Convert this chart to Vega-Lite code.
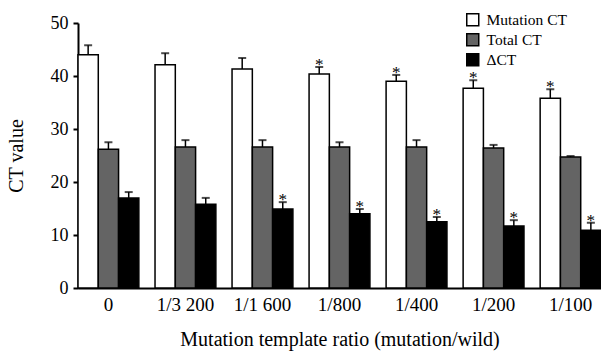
{
  "$schema": "https://vega.github.io/schema/vega-lite/v6.json",
  "width": 523,
  "height": 265,
  "autosize": {"type": "none"},
  "padding": {"left": 78, "top": 23, "right": 0, "bottom": 64},
  "background": "white",
  "config": {
    "view": {"stroke": null},
    "font": "Liberation Serif",
    "axis": {"domainColor": "black", "domainWidth": 2, "tickColor": "black", "tickWidth": 2, "labelColor": "black", "titleColor": "black", "labelFont": "Liberation Serif", "titleFont": "Liberation Serif", "titleFontWeight": "normal", "labelFontSize": 19, "titleFontSize": 20, "grid": false}
  },
  "data": {
    "values": [
      {"ratio": "0", "series": "Mutation CT", "value": 44.0, "top": 45.8, "sig": false},
      {"ratio": "0", "series": "Total CT", "value": 26.2, "top": 27.5, "sig": false},
      {"ratio": "0", "series": "ΔCT", "value": 17.0, "top": 18.1, "sig": false},
      {"ratio": "1/3 200", "series": "Mutation CT", "value": 42.1, "top": 44.3, "sig": false},
      {"ratio": "1/3 200", "series": "Total CT", "value": 26.6, "top": 27.9, "sig": false},
      {"ratio": "1/3 200", "series": "ΔCT", "value": 15.8, "top": 17.0, "sig": false},
      {"ratio": "1/1 600", "series": "Mutation CT", "value": 41.3, "top": 43.4, "sig": false},
      {"ratio": "1/1 600", "series": "Total CT", "value": 26.6, "top": 27.9, "sig": false},
      {"ratio": "1/1 600", "series": "ΔCT", "value": 14.9, "top": 16.2, "sig": true},
      {"ratio": "1/800", "series": "Mutation CT", "value": 40.4, "top": 41.7, "sig": true},
      {"ratio": "1/800", "series": "Total CT", "value": 26.6, "top": 27.5, "sig": false},
      {"ratio": "1/800", "series": "ΔCT", "value": 14.0, "top": 14.9, "sig": true},
      {"ratio": "1/400", "series": "Mutation CT", "value": 39.0, "top": 40.2, "sig": true},
      {"ratio": "1/400", "series": "Total CT", "value": 26.6, "top": 27.9, "sig": false},
      {"ratio": "1/400", "series": "ΔCT", "value": 12.5, "top": 13.4, "sig": true},
      {"ratio": "1/200", "series": "Mutation CT", "value": 37.7, "top": 39.2, "sig": true},
      {"ratio": "1/200", "series": "Total CT", "value": 26.4, "top": 27.0, "sig": false},
      {"ratio": "1/200", "series": "ΔCT", "value": 11.7, "top": 12.8, "sig": true},
      {"ratio": "1/100", "series": "Mutation CT", "value": 35.8, "top": 37.5, "sig": true},
      {"ratio": "1/100", "series": "Total CT", "value": 24.7, "top": 24.9, "sig": false},
      {"ratio": "1/100", "series": "ΔCT", "value": 10.9, "top": 12.3, "sig": true}
    ]
  },
  "encoding": {
    "x": {
      "field": "ratio", "type": "nominal",
      "sort": ["0", "1/3 200", "1/1 600", "1/800", "1/400", "1/200", "1/100"],
      "scale": {"paddingInner": 0.21, "paddingOuter": 0, "align": 1},
      "axis": {"title": "Mutation template ratio (mutation/wild)", "labelAngle": 0, "ticks": false, "labelPadding": 7, "titlePadding": 15}
    },
    "xOffset": {
      "field": "series", "type": "nominal",
      "sort": ["Mutation CT", "Total CT", "ΔCT"],
      "scale": {"paddingInner": 0, "paddingOuter": 0}
    }
  },
  "layer": [
    {
      "mark": {"type": "bar", "stroke": "black", "strokeWidth": 1.5},
      "encoding": {
        "y": {"field": "value", "type": "quantitative", "scale": {"domain": [0, 50], "nice": false},
          "axis": {"title": "CT value", "values": [0, 10, 20, 30, 40, 50], "tickSize": 5, "labelPadding": 5, "labelFontSize": 18, "titlePadding": 24}},
        "fill": {"field": "series", "type": "nominal",
          "scale": {"domain": ["Mutation CT", "Total CT", "ΔCT"], "range": ["white", "#646464", "black"]},
          "legend": {"title": null, "orient": "none", "legendX": 387, "legendY": -11, "symbolType": "square", "symbolSize": 144, "symbolStrokeColor": "black", "symbolStrokeWidth": 1.5, "labelFontSize": 15.5, "labelFont": "Liberation Serif", "labelColor": "black", "labelOffset": 6, "rowPadding": 1, "symbolOffset": 0}}
      }
    },
    {
      "mark": {"type": "rule", "color": "black", "strokeWidth": 1.5},
      "encoding": {
        "y": {"field": "value", "type": "quantitative"},
        "y2": {"field": "top"}
      }
    },
    {
      "mark": {"type": "tick", "color": "black", "size": 8, "thickness": 2, "orient": "horizontal"},
      "encoding": {
        "y": {"field": "top", "type": "quantitative"}
      }
    },
    {
      "transform": [{"filter": "datum.sig"}],
      "mark": {"type": "text", "text": "*", "fontSize": 17, "font": "Liberation Serif", "fill": "black", "baseline": "alphabetic", "dy": 3},
      "encoding": {
        "y": {"field": "top", "type": "quantitative"}
      }
    }
  ]
}
